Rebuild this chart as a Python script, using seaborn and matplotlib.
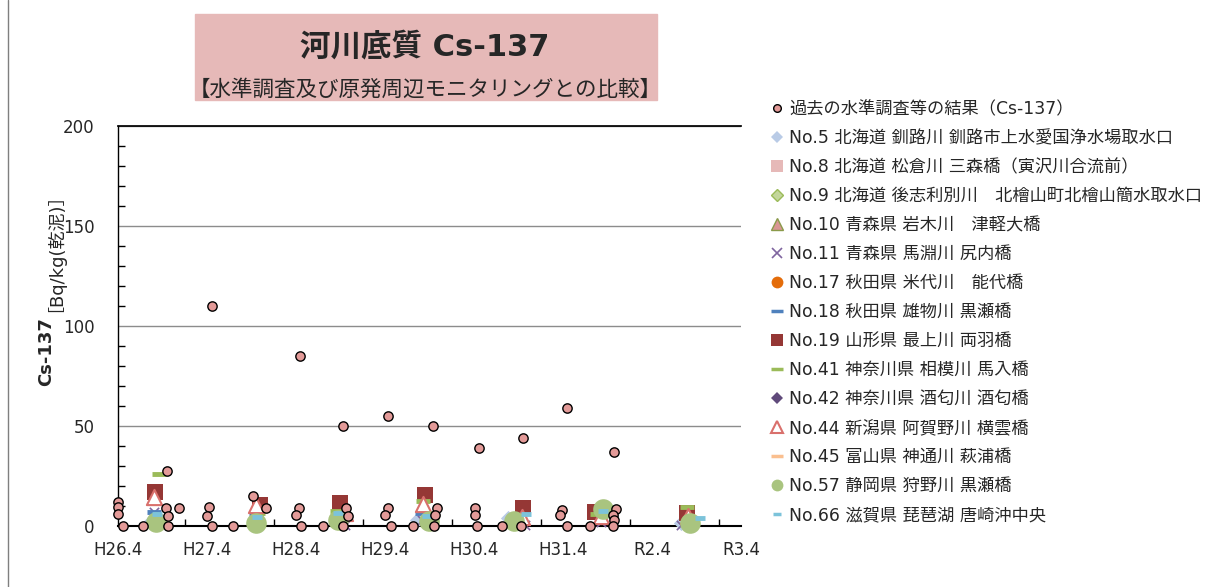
import numpy as np
import pandas as pd
import matplotlib
matplotlib.use("Agg")
import matplotlib.pyplot as plt
import seaborn as sns
from matplotlib.lines import Line2D
from matplotlib.patches import Rectangle

# x = years since H26.4 (fiscal year start)
x_labels = ["H26.4", "H27.4", "H28.4", "H29.4", "H30.4", "H31.4", "R2.4", "R3.4"]

# past survey results (Cs-137)
past_x = [0.00, 0.00, 0.00, 0.06, 0.28, 0.55, 0.54, 0.56, 0.56, 0.69,
          1.02, 1.00, 1.06, 1.06, 1.29, 1.52, 1.66,
          2.03, 2.00, 2.04, 2.06, 2.30, 2.53, 2.56, 2.58, 2.53,
          3.03, 3.00, 3.07, 3.03, 3.32, 3.54, 3.58, 3.56, 3.55,
          4.01, 4.01, 4.03, 4.06, 4.31, 4.55, 4.53,
          4.99, 4.97, 5.05, 5.04, 5.30, 5.57, 5.60, 5.56, 5.57, 5.56]
past_y = [12.2, 9.7, 5.8, 0, 0, 27.7, 8.8, 5.0, 0, 9.2,
          9.7, 5.2, 0, 110, 0, 15, 8.8,
          8.8, 5.5, 85, 0, 0, 50, 8.8, 5.0, 0,
          8.8, 5.5, 0, 55, 0, 50, 9.0, 5.5, 0,
          9.2, 5.5, 0, 39, 0, 44, 0,
          8.0, 5.5, 0, 59, 0, 37, 8.5, 5.5, 3.0, 0]

no5_x = [0.36, 3.36, 4.38, 6.33]
no5_y = [2.0, 3.0, 4.0, 1.5]
no8_x, no8_y = [], []
no9_x, no9_y = [], []
no10_x, no10_y = [], []
no11_x = [0.41, 2.55, 3.42, 4.57, 5.43, 6.33]
no11_y = [7.0, 0.5, 3.0, 0.5, 2.0, 0.5]
no17_x, no17_y = [], []
no18_x = [0.40, 1.55, 3.42, 5.42]
no18_y = [6.8, 5.5, 6.7, 5.0]
no19_x = [0.42, 1.60, 2.49, 3.45, 4.55, 5.36, 6.39]
no19_y = [17.0, 10.5, 11.5, 15.5, 8.8, 7.2, 6.3]
no41_x = [0.46, 1.57, 2.46, 3.43, 5.38, 6.39]
no41_y = [25.8, 6.7, 7.6, 12.7, 6.0, 9.7]
no42_x, no42_y = [], []
no44_x = [0.41, 1.55, 2.55, 3.43, 4.54, 5.43, 6.41]
no44_y = [14.5, 10.5, 6.7, 11.0, 4.7, 5.0, 5.0]
no45_x, no45_y = [], []
no57_x = [0.43, 1.55, 2.47, 3.49, 4.45, 5.45, 6.43]
no57_y = [2.2, 1.3, 3.0, 2.7, 2.5, 8.3, 1.3]
no66_x = [0.44, 1.56, 2.47, 3.47, 4.58, 5.45, 6.54]
no66_y = [6.0, 4.5, 6.3, 5.0, 6.2, 7.5, 3.8]

labels = ["過去の水準調査等の結果（Cs-137）",
          "No.5 北海道 釧路川 釧路市上水愛国浄水場取水口",
          "No.8 北海道 松倉川 三森橋（寅沢川合流前）",
          "No.9 北海道 後志利別川　北檜山町北檜山簡水取水口",
          "No.10 青森県 岩木川　津軽大橋",
          "No.11 青森県 馬淵川 尻内橋",
          "No.17 秋田県 米代川　能代橋",
          "No.18 秋田県 雄物川 黒瀬橋",
          "No.19 山形県 最上川 両羽橋",
          "No.41 神奈川県 相模川 馬入橋",
          "No.42 神奈川県 酒匂川 酒匂橋",
          "No.44 新潟県 阿賀野川 横雲橋",
          "No.45 富山県 神通川 萩浦橋",
          "No.57 静岡県 狩野川 黒瀬橋",
          "No.66 滋賀県 琵琶湖 唐崎沖中央"]

sns.set_theme(style="white")
plt.rcParams['font.family'] = ['DejaVu Sans', 'Noto Sans CJK JP']

fig = plt.figure(figsize=(12.26, 5.87), dpi=100)
ax = fig.add_axes([118/1226, 1-526/587, (741-118)/1226, 400/587])

# marker styles: (marker, size, face, edge, lw)
styles = [
    ("D", 60, "#b9cbe6", "#b9cbe6", 0),
    ("s", 60, "#e6b9b8", "#e6b9b8", 0),
    ("D", 60, "#c3d69b", "#9bbb59", 1),
    ("^", 80, "#d99694", "#8a9a4a", 1),
    ("x", 45, "#7f659f", "#7f659f", 1.2),
    ("o", 80, "#e46c0a", "#e46c0a", 0),
    ("_", 110, "#4f81bd", "#4f81bd", 3.5),
    ("s", 120, "#953735", "#953735", 0),
    ("_", 110, "#9bbb59", "#9bbb59", 3.5),
    ("D", 60, "#604a7b", "#604a7b", 0),
    ("^", 120, "white", "#d9706c", 1.5),
    ("_", 110, "#fabf8f", "#fabf8f", 3.5),
    ("o", 220, "#a9c47f", "#a9c47f", 0),
    ("_", 60, "#7cc3da", "#7cc3da", 3.5),
]
series = [(no5_x, no5_y), (no8_x, no8_y), (no9_x, no9_y), (no10_x, no10_y),
          (no11_x, no11_y), (no17_x, no17_y), (no18_x, no18_y), (no19_x, no19_y),
          (no41_x, no41_y), (no42_x, no42_y), (no44_x, no44_y), (no45_x, no45_y),
          (no57_x, no57_y), (no66_x, no66_y)]

for i, ((sx, sy), (m, s, fc, ec, lw)) in enumerate(zip(series, styles)):
    if len(sx) == 0:
        continue
    if m in ("_", "x"):
        sns.scatterplot(x=sx, y=sy, marker=m, s=s, color=fc, linewidth=lw, ax=ax,
                        zorder=3+i, clip_on=False)
    else:
        sns.scatterplot(x=sx, y=sy, marker=m, s=s, color=fc, edgecolor=ec, linewidth=lw, ax=ax,
                        zorder=3+i, clip_on=False)

sns.scatterplot(x=past_x, y=past_y, marker="o", s=45, color="#e39a98", edgecolor="black",
                linewidth=1, ax=ax, zorder=30, clip_on=False)

ax.set_xlim(0, len(x_labels)-1)
ax.set_ylim(0, 200)
ax.set_xticks(np.arange(len(x_labels)))
ax.set_xticklabels(x_labels, fontsize=12)
ax.set_xticks(np.arange(1, len(x_labels)) - 0.25, minor=True)
ax.set_yticks([0, 50, 100, 150, 200])
ax.set_yticklabels(["0", "50", "100", "150", "200"], fontsize=12)
ax.set_yticks(np.arange(0, 201, 10), minor=True)
ax.tick_params(axis="x", which="major", direction="inout", length=10, width=1, color="black", pad=6)
ax.tick_params(axis="x", which="minor", direction="in", length=5, width=1, color="black", bottom=True)
ax.tick_params(axis="y", which="major", direction="in", length=0, pad=17)
ax.tick_params(axis="y", which="minor", direction="in", length=5, width=1, color="black", left=True)
ax.set_xlabel("")
ax.set_ylabel("")
ax.grid(axis="y", which="major", color="#8c8c8c", linewidth=1)
ax.set_axisbelow(True)
ax.spines["right"].set_visible(False)
ax.spines["top"].set_color("black")
ax.spines["left"].set_color("black")
ax.spines["bottom"].set_color("black")
ax.spines["bottom"].set_linewidth(1.5)
ax.spines["left"].set_linewidth(1)

# y label: bold part + normal part
fig.text(46/1226, 1-386/587, "Cs-137", rotation=90, ha="center", va="bottom",
         fontsize=13, fontweight="bold")
fig.text(46/1226, 1-312/587, "［Bq/kg(乾泥)］", rotation=90, ha="center", va="bottom",
         fontsize=13)

# title box
fig.patches.append(Rectangle((195/1226, 1-100/587), (657-195)/1226, 86/587,
                             transform=fig.transFigure, color="#e6b9b8", zorder=0))
fig.text(425/1226, 1-46/587, "河川底質 Cs-137", ha="center", va="center",
         fontsize=22, fontweight="bold")
fig.text(425/1226, 1-89/587, "【水準調査及び原発周辺モニタリングとの比較】", ha="center", va="center",
         fontsize=15.5)

# legend
leg_styles = [("o", 5.5, "#e39a98", "black", 1)] + [
    (m, {"D": 6.5, "s": 8, "^": 8, "x": 7, "o": 8.5, "_": 9}[m] if l != 13 else 6, fc, ec, lw if m != "_" else 2.5)
    for l, (m, s, fc, ec, lw) in enumerate(styles)]
handles = [Line2D([], [], linestyle="none", marker=m, markersize=ms, markerfacecolor=fc,
                  markeredgecolor=ec, markeredgewidth=lw, color=fc)
           for (m, ms, fc, ec, lw) in leg_styles]
fig.legend(handles, labels, loc="upper left", bbox_to_anchor=(770/1226, 1-100/587),
           frameon=False, fontsize=12.4, handlelength=0.8, handletextpad=0.3,
           labelspacing=0.64, borderaxespad=0, borderpad=0)

# chart border
fig.add_artist(Line2D([8/1226, 8/1226], [0, 1], transform=fig.transFigure, color="#7f7f7f", linewidth=1))

fig.savefig("out.png", dpi=100)
